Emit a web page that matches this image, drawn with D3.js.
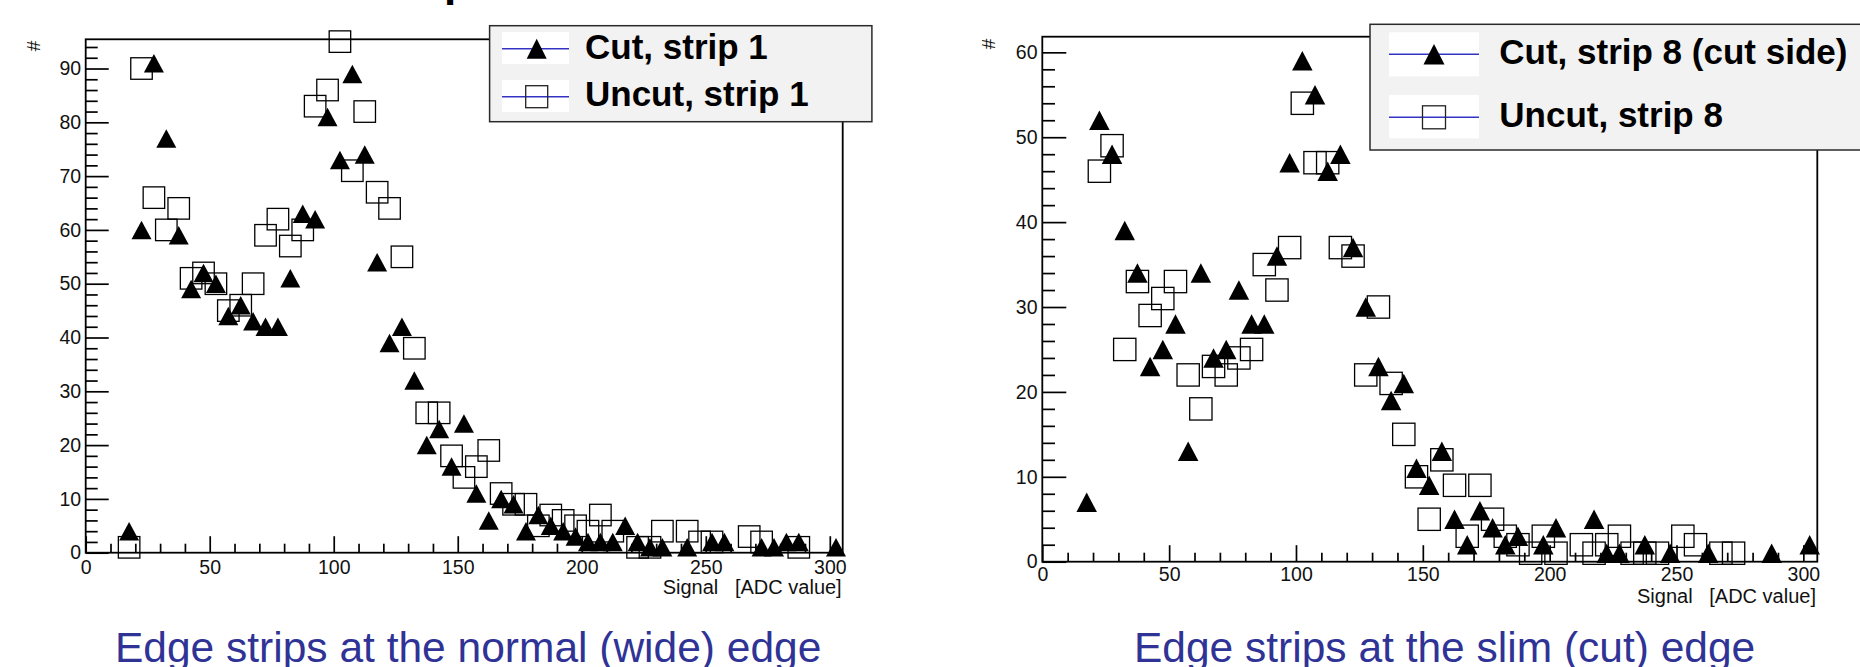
<!DOCTYPE html>
<html>
<head>
<meta charset="utf-8">
<script src="https://cdn.jsdelivr.net/npm/d3@7/dist/d3.min.js"></script>
<style>
  html, body { margin: 0; padding: 0; background: #fff; }
  svg { display: block; font-family: "Liberation Sans", Arial, Helvetica, sans-serif; }
</style>
</head>
<body>
<svg id="chart" width="1860" height="667"></svg>
<script>
// ─────────────────────────────────────────────
// Edge strip signal spectra, cut vs uncut sensor
// Two ROOT-style histogram panels drawn with D3.
// ─────────────────────────────────────────────

// Shared axis ticks
const xTicks = [0, 50, 100, 150, 200, 250, 300];
const yTicksNormal = [0, 10, 20, 30, 40, 50, 60, 70, 80, 90];
const yTicksSlim = [0, 10, 20, 30, 40, 50, 60];

// [bin centre (ADC), entries]
const normalCut = [[17.5,4],[22.5,60],[27.5,91],[32.5,77],[37.5,59],[42.5,49],[47.5,52],[52.5,50],
  [57.5,44],[62.5,46],[67.5,43],[72.5,42],[77.5,42],[82.5,51],[87.5,63],[92.5,62],[97.5,81],
  [102.5,73],[107.5,89],[112.5,74],[117.5,54],[122.5,39],[127.5,42],[132.5,32],[137.5,20],
  [142.5,23],[147.5,16],[152.5,24],[157.5,11],[162.5,6],[167.5,10],[172.5,9],[177.5,4],[182.5,7],
  [187.5,5],[192.5,4],[197.5,3],[202.5,2],[207.5,2],[212.5,2],[217.5,5],[222.5,2],[227.5,1],
  [232.5,1],[242.5,1],[252.5,2],[257.5,2],[272.5,1],[277.5,1],[282.5,2],[287.5,2],[302.5,1]];

const normalUncut = [[17.5,1],[22.5,90],[27.5,66],[32.5,60],[37.5,64],[42.5,51],[47.5,52],[52.5,50],
  [57.5,45],[62.5,46],[67.5,50],[72.5,59],[77.5,62],[82.5,57],[87.5,60],[92.5,83],[97.5,86],
  [102.5,95],[107.5,71],[112.5,82],[117.5,67],[122.5,64],[127.5,55],[132.5,38],[137.5,26],
  [142.5,26],[147.5,18],[152.5,14],[157.5,16],[162.5,19],[167.5,11],[172.5,9],[177.5,9],[182.5,5],
  [187.5,7],[192.5,6],[197.5,5],[202.5,4],[207.5,7],[212.5,4],[222.5,1],[227.5,1],[232.5,4],
  [242.5,4],[247.5,2],[252.5,2],[267.5,3],[272.5,2],[287.5,1]];

const slimCut = [[17.5,7],[22.5,52],[27.5,48],[32.5,39],[37.5,34],[42.5,23],[47.5,25],[52.5,28],
  [57.5,13],[62.5,34],[67.5,24],[72.5,25],[77.5,32],[82.5,28],[87.5,28],[92.5,36],[97.5,47],
  [102.5,59],[107.5,55],[112.5,46],[117.5,48],[122.5,37],[127.5,30],[132.5,23],[137.5,19],
  [142.5,21],[147.5,11],[152.5,9],[157.5,13],[162.5,5],[167.5,2],[172.5,6],[177.5,4],[182.5,2],
  [187.5,3],[197.5,2],[202.5,4],[217.5,5],[222.5,1],[227.5,1],[237.5,2],[247.5,1],[262.5,1],
  [287.5,1],[302.5,2]];

const slimUncut = [[22.5,46],[27.5,49],[32.5,25],[37.5,33],[42.5,29],[47.5,31],[52.5,33],[57.5,22],
  [62.5,18],[67.5,23],[72.5,22],[77.5,24],[82.5,25],[87.5,35],[92.5,32],[97.5,37],[102.5,54],
  [107.5,47],[112.5,47],[117.5,37],[122.5,36],[127.5,22],[132.5,30],[137.5,21],[142.5,15],
  [147.5,10],[152.5,5],[157.5,12],[162.5,9],[167.5,3],[172.5,9],[177.5,5],[182.5,3],[187.5,2],
  [192.5,1],[197.5,3],[202.5,1],[212.5,2],[217.5,1],[222.5,2],[227.5,3],[232.5,1],[237.5,1],
  [242.5,1],[252.5,3],[257.5,2],[267.5,1],[272.5,1]];

const normalLegend = ["Cut, strip 1", "Uncut, strip 1"];
const slimLegend = ["Cut, strip 8 (cut side)", "Uncut, strip 8"];
const captions = ["Edge strips at the normal (wide) edge", "Edge strips at the slim (cut) edge"];
const xTitle = "Signal   [ADC value]";
const yTitle = "#";

(function () {
  "use strict";

  const svg = d3.select("#chart");
  const FONT = '"Liberation Sans", Arial, Helvetica, sans-serif';
  const LEGEND_BLUE = "#3434c4";
  const CAPTION_BLUE = "#303396";

  // cut-off slide heading above the panels; only a descender is visible
  svg.append("text")
    .attr("x", 444).attr("y", -4)
    .attr("font-size", 44).attr("font-weight", "bold")
    .attr("fill", "#000")
    .text("p");

  // triangle centred on its bounding box, like ROOT marker 22
  function triPath(w, h) {
    return `M0,${-h / 2}L${w / 2},${h / 2}L${-w / 2},${h / 2}Z`;
  }

  const panels = [
    {
      cut: normalCut, uncut: normalUncut, legend: normalLegend, caption: captions[0],
      left: 85.7, right: 842.7, top: 39.3, bottom: 552.7, xMax: 305.2, yMax: 95.43,
      yTicks: yTicksNormal, yMajor: 23, yMinor: 12, yPad: 4.5, xPad: 7,
      titleBase: 594, titleRight: 841.7, hash: [33, 46],
      sq: 21.5, triW: 20, triH: 18.5,
      box: { x: 489.6, y: 25.7, w: 382.3, h: 96 },
      sw: { x: 502, w: 67, cx: 536.7, sq: 22, triW: 20, triH: 20 },
      rows: [{ top: 32, h: 32, line: 48.7, base: 59.3 }, { top: 80, h: 32, line: 96.7, base: 106 }],
      textX: 585, capX: 115
    },
    {
      cut: slimCut, uncut: slimUncut, legend: slimLegend, caption: captions[1],
      left: 1042.3, right: 1817.3, top: 36.7, bottom: 561.7, xMax: 305.5, yMax: 61.84,
      yTicks: yTicksSlim, yMajor: 24, yMinor: 12.7, yPad: 4.8, xPad: 5.5,
      titleBase: 603.3, titleRight: 1816, hash: [988.3, 44],
      sq: 22.3, triW: 20.5, triH: 19.5,
      box: { x: 1370, y: 24.3, w: 520, h: 125.7 },
      sw: { x: 1389, w: 90, cx: 1434, sq: 23, triW: 21, triH: 20.5 },
      rows: [{ top: 32.3, h: 44, line: 54.3, base: 64 }, { top: 95, h: 43.3, line: 117.3, base: 126.7 }],
      textX: 1499.3, capX: 1134
    }
  ];

  panels.forEach(drawPanel);

  function drawPanel(p) {
    const x = d3.scaleLinear().domain([0, p.xMax]).range([p.left, p.right]);
    const y = d3.scaleLinear().domain([0, p.yMax]).range([p.bottom, p.top]);
    const g = svg.append("g");

    // frame
    g.append("rect")
      .attr("x", p.left).attr("y", p.top)
      .attr("width", p.right - p.left).attr("height", p.bottom - p.top)
      .attr("fill", "none").attr("stroke", "#000").attr("stroke-width", 1.8);

    const tidy = (sel) => {
      sel.select(".domain").remove();
      sel.attr("font-family", FONT).attr("font-size", 19.5).attr("color", "#000");
      sel.selectAll(".tick line").attr("stroke-width", 1.7);
      sel.selectAll(".tick text").attr("fill", "#111");
    };

    // y axis: ticks point into the frame, labels on the left
    const yMinorVals = d3.range(0, p.yMax, 2).filter((v) => v % 10 !== 0);
    g.append("g").attr("transform", `translate(${p.left},0)`)
      .call(d3.axisLeft(y).tickValues(yMinorVals).tickSize(-p.yMinor).tickFormat(""))
      .call(tidy);
    g.append("g").attr("transform", `translate(${p.left},0)`)
      .call(d3.axisLeft(y).tickValues(p.yTicks).tickSize(-p.yMajor).tickPadding(p.yPad).tickFormat(d3.format("d")))
      .call(tidy);

    // x axis: ticks point up
    const xMinorVals = d3.range(10, p.xMax, 10).filter((v) => v % 50 !== 0);
    g.append("g").attr("transform", `translate(0,${p.bottom})`)
      .call(d3.axisBottom(x).tickValues(xMinorVals).tickSize(-9).tickFormat(""))
      .call(tidy);
    g.append("g").attr("transform", `translate(0,${p.bottom})`)
      .call(d3.axisBottom(x).tickValues(xTicks).tickSize(-16.5).tickPadding(p.xPad).tickFormat(d3.format("d")))
      .call(tidy);

    // axis titles
    g.append("text")
      .attr("x", p.titleRight).attr("y", p.titleBase)
      .attr("text-anchor", "end").attr("font-size", 20)
      .style("white-space", "pre").attr("fill", "#111")
      .text(xTitle);
    g.append("text")
      .attr("transform", `translate(${p.hash[0]},${p.hash[1]}) rotate(-90)`)
      .attr("text-anchor", "middle").attr("dominant-baseline", "central")
      .attr("font-size", 19).attr("fill", "#111")
      .text(yTitle);

    // markers: cut (filled triangles) first, uncut (open squares) "same"
    g.append("g").selectAll("path")
      .data(p.cut)
      .join("path")
      .attr("transform", (d) => `translate(${x(d[0])},${y(d[1])})`)
      .attr("d", triPath(p.triW, p.triH))
      .attr("fill", "#000");

    g.append("g").selectAll("rect")
      .data(p.uncut)
      .join("rect")
      .attr("x", (d) => x(d[0]) - p.sq / 2)
      .attr("y", (d) => y(d[1]) - p.sq / 2)
      .attr("width", p.sq).attr("height", p.sq)
      .attr("fill", "none").attr("stroke", "#000").attr("stroke-width", 1.3);

    // legend
    const lg = g.append("g");
    lg.append("rect")
      .attr("x", p.box.x).attr("y", p.box.y)
      .attr("width", p.box.w).attr("height", p.box.h)
      .attr("fill", "#f2f2f2").attr("stroke", "#2a2a2a").attr("stroke-width", 1.5);

    const rows = lg.selectAll("g.row")
      .data(p.legend.map((label, i) => ({ label, i, row: p.rows[i] })))
      .join("g").attr("class", "row");

    rows.append("rect")
      .attr("x", p.sw.x).attr("y", (d) => d.row.top)
      .attr("width", p.sw.w).attr("height", (d) => d.row.h)
      .attr("fill", "#fff");
    rows.append("line")
      .attr("x1", p.sw.x).attr("x2", p.sw.x + p.sw.w)
      .attr("y1", (d) => d.row.line).attr("y2", (d) => d.row.line)
      .attr("stroke", LEGEND_BLUE).attr("stroke-width", 1.4);
    rows.filter((d) => d.i === 0).append("path")
      .attr("transform", (d) => `translate(${p.sw.cx},${d.row.line})`)
      .attr("d", triPath(p.sw.triW, p.sw.triH))
      .attr("fill", "#000");
    rows.filter((d) => d.i === 1).append("rect")
      .attr("x", p.sw.cx - p.sw.sq / 2)
      .attr("y", (d) => d.row.line - p.sw.sq / 2)
      .attr("width", p.sw.sq).attr("height", p.sw.sq)
      .attr("fill", "none").attr("stroke", "#222").attr("stroke-width", 1.3);
    rows.append("text")
      .attr("x", p.textX).attr("y", (d) => d.row.base)
      .attr("font-size", 35).attr("font-weight", "bold").attr("fill", "#000")
      .text((d) => d.label);

    // slide caption under the panel
    svg.append("text")
      .attr("x", p.capX).attr("y", 662.3)
      .attr("font-size", 42.5).attr("fill", CAPTION_BLUE)
      .text(p.caption);
  }
})();
</script>
</body>
</html>
